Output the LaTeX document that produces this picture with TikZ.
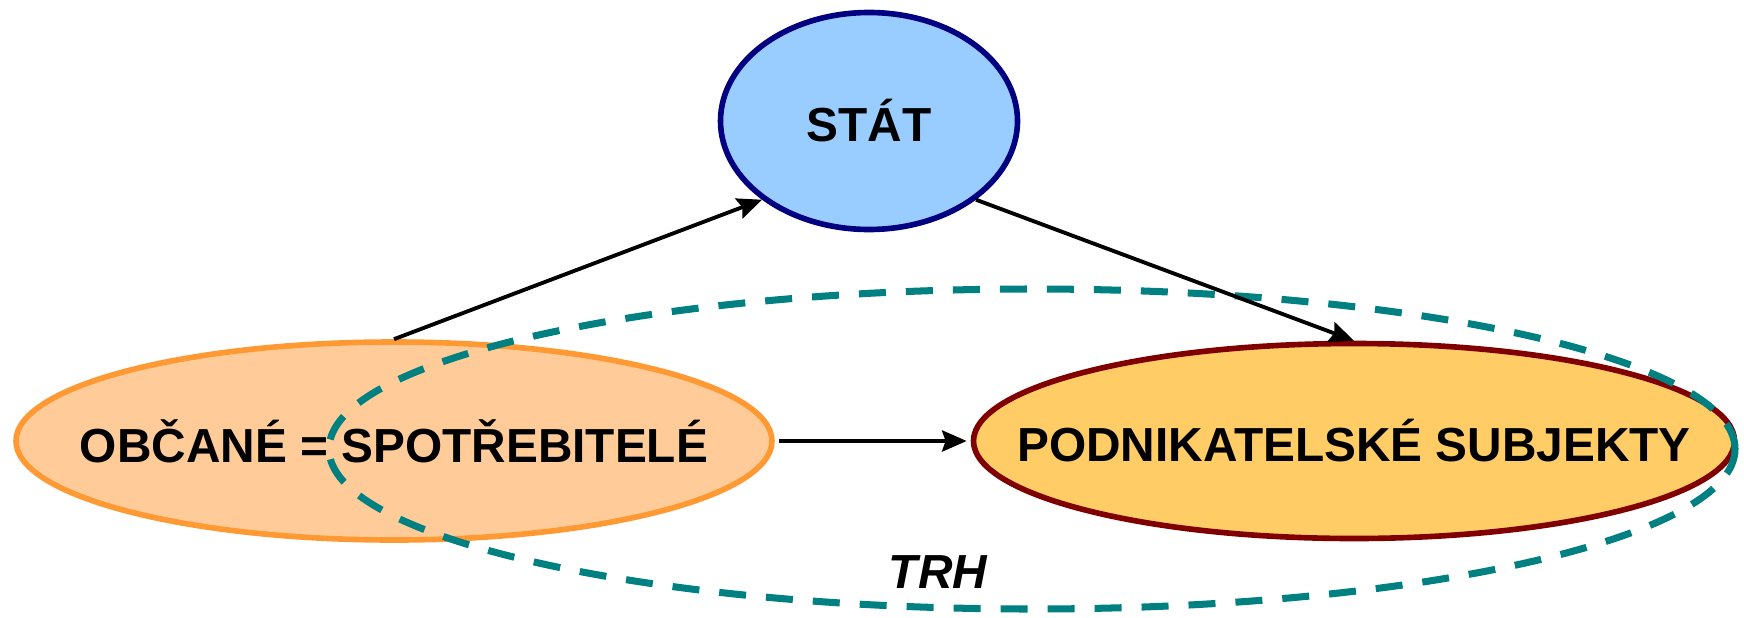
\documentclass[tikz,border=0pt]{standalone}
\usepackage{fontspec}
\setmainfont{Liberation Sans}
\usetikzlibrary{shapes.geometric,arrows.meta}
\definecolor{statfill}{HTML}{99CCFF}
\definecolor{statline}{HTML}{000080}
\definecolor{obcfill}{HTML}{FFCC99}
\definecolor{obcline}{HTML}{FF9933}
\definecolor{podfill}{HTML}{FFCC66}
\definecolor{podline}{HTML}{800000}
\definecolor{trhline}{HTML}{008080}
\begin{document}
\begin{tikzpicture}[
  ell/.style={ellipse,inner sep=0pt,line width=1.6pt},
  txt/.style={font=\fontsize{13.6pt}{16pt}\selectfont\bfseries},
  arr/.style={-{Stealth[length=7pt,width=6pt,inset=1pt]},line width=1.1pt}]
\useasboundingbox (0,0) rectangle (17.44,6.17);
\node[ell,draw=statline,fill=statfill,minimum width=2.97cm,minimum height=2.17cm] (stat) at (8.69,4.96) {};
\node[txt] at (stat) {STÁT};
\node[ell,draw=obcline,fill=obcfill,minimum width=7.56cm,minimum height=1.98cm] (obc) at (3.94,1.76) {};
\node[txt] at (obc) {OBČANÉ = SPOTŘEBITELÉ};
\node[ell,draw=podline,fill=podfill,minimum width=7.61cm,minimum height=1.95cm] (pod) at (13.54,1.76) {};
\node[txt] at (pod) {PODNIKATELSKÉ SUBJEKTY};
% trh
\draw[trhline,line width=2pt,dash pattern=on 0.27cm off 0.2cm] (10.32,1.68) ellipse (7.03 and 1.60);
\node[txt,font=\fontsize{13.6pt}{16pt}\selectfont\bfseries\itshape] (trh) at (9.38,0.45) {TRH};
\draw[arr] (obc.north) -- (stat.south west);
\draw[arr] (stat.south east) -- (pod.north);
\draw[arr] ([xshift=0.04cm]obc.east) -- ([xshift=-0.04cm]pod.west);
\end{tikzpicture}
\end{document}
